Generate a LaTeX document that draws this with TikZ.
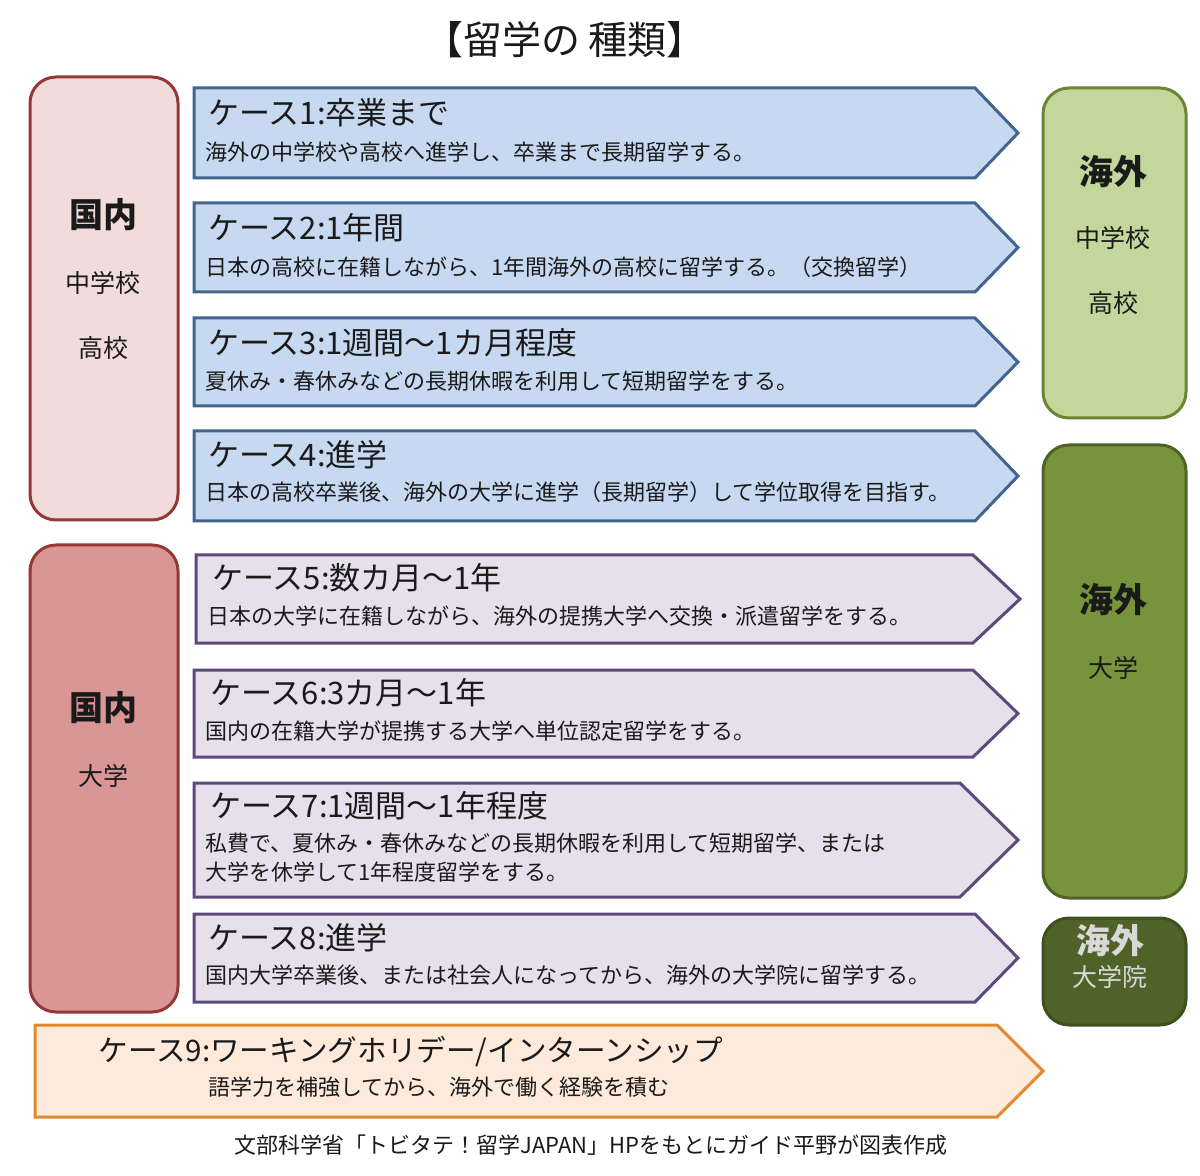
\documentclass[tikz,border=0pt]{standalone}
\usepackage{fontspec}
\setmainfont{Noto Sans CJK JP}
\newfontfamily\jp{Noto Sans CJK JP}
\definecolor{pinkL}{HTML}{F2DCDB}
\definecolor{pinkD}{HTML}{D99694}
\definecolor{redB}{HTML}{953735}
\definecolor{greenL}{HTML}{C3D69B}
\definecolor{greenLB}{HTML}{6B8533}
\definecolor{greenM}{HTML}{77933C}
\definecolor{greenMB}{HTML}{4F6228}
\definecolor{greenD}{HTML}{4F6228}
\definecolor{greenDB}{HTML}{3F4F20}
\definecolor{blueF}{HTML}{C6D9F1}
\definecolor{blueB}{HTML}{41658F}
\definecolor{purpF}{HTML}{E5E0EC}
\definecolor{purpB}{HTML}{5F497A}
\definecolor{orgF}{HTML}{FDEADA}
\definecolor{orgB}{HTML}{E0892E}
\definecolor{txt}{HTML}{1A1A1A}
\definecolor{lighttxt}{HTML}{D9D9D9}
\tikzset{
  sidebox/.style={rounded corners=13pt, line width=1.5pt},
  blueArrow/.style={draw=blueB, fill=blueF, line width=1.5pt, line join=miter},
  purpArrow/.style={draw=purpB, fill=purpF, line width=1.5pt, line join=miter},
  orgArrow/.style={draw=orgB, fill=orgF, line width=1.5pt, line join=miter},
  head/.style={anchor=west, inner sep=0pt, text=txt, font=\jp\fontsize{15.5}{18}\selectfont},
  sub/.style={anchor=west, inner sep=0pt, text=txt, font=\jp\fontsize{11}{13}\selectfont},
  big/.style={inner sep=0pt, text=txt, font=\jp\bfseries\fontsize{17}{20}\selectfont},
  small/.style={inner sep=0pt, text=txt, font=\jp\fontsize{12.5}{15}\selectfont},
}
% #1 left, #2 top, #3 bottom, #4 shoulder, #5 tip, #6 style
\newcommand\CaseArrow[6]{%
  \draw[#6] (#1,#2) -- (#4,#2) -- (#5,{(#2+#3)/2}) -- (#4,#3) -- (#1,#3) -- cycle;}
\begin{document}
\begin{tikzpicture}[x=0.5pt,y=-0.5pt]
\useasboundingbox (0,0) rectangle (1200,1176);
\fill[white] (0,0) rectangle (1200,1176);

% title
\node[inner sep=0pt, text=txt, font=\jp\fontsize{19.5}{22}\selectfont] (title) at (565,40) {【留学の 種類】};

% left boxes
\draw[sidebox, draw=redB, fill=pinkL] (30,77) rectangle (178,520);
\node[big] (l1a) at (103,215) {国内};
\node[small] (l1b) at (103,283) {中学校};
\node[small] (l1c) at (103,348) {高校};

\draw[sidebox, draw=redB, fill=pinkD] (30,545) rectangle (178,1012);
\node[big] (l2a) at (103,708) {国内};
\node[small] (l2b) at (103,776) {大学};

% right boxes
\draw[sidebox, draw=greenLB, fill=greenL] (1043,88) rectangle (1186,418);
\node[big] (r1a) at (1113,172) {海外};
\node[small] (r1b) at (1113,238) {中学校};
\node[small] (r1c) at (1113,303) {高校};

\draw[sidebox, draw=greenMB, fill=greenM] (1043,445) rectangle (1186,898);
\node[big] (r2a) at (1113,600) {海外};
\node[small] (r2b) at (1113,668) {大学};

\draw[sidebox, draw=greenDB, fill=greenD] (1043,918) rectangle (1186,1025);
\node[big, text=lighttxt] (r3a) at (1110,941) {海外};
\node[small, text=lighttxt] (r3b) at (1110,977) {大学院};

% arrows
\CaseArrow{194}{88}{178}{975}{1018}{blueArrow}
\node[head] (c1h) at (208,113) {ケース1:卒業まで};
\node[sub] (c1s) at (205,152) {海外の中学校や高校へ進学し、卒業まで長期留学する。};

\CaseArrow{194}{203}{292}{975}{1018}{blueArrow}
\node[head] (c2h) at (208,228) {ケース2:1年間};
\node[sub] (c2s) at (205,267) {日本の高校に在籍しながら、1年間海外の高校に留学する。（交換留学）};

\CaseArrow{194}{318}{406}{975}{1018}{blueArrow}
\node[head] (c3h) at (208,343) {ケース3:1週間～1カ月程度};
\node[sub] (c3s) at (205,381) {夏休み・春休みなどの長期休暇を利用して短期留学をする。};

\CaseArrow{194}{431}{521}{975}{1018}{blueArrow}
\node[head] (c4h) at (208,455) {ケース4:進学};
\node[sub] (c4s) at (205,492) {日本の高校卒業後、海外の大学に進学（長期留学）して学位取得を目指す。};

\CaseArrow{196}{555}{643}{973}{1020}{purpArrow}
\node[head] (c5h) at (212,578) {ケース5:数カ月～1年};
\node[sub] (c5s) at (207,616) {日本の大学に在籍しながら、海外の提携大学へ交換・派遣留学をする。};

\CaseArrow{194}{670}{757}{973}{1018}{purpArrow}
\node[head] (c6h) at (210,693) {ケース6:3カ月～1年};
\node[sub] (c6s) at (205,731) {国内の在籍大学が提携する大学へ単位認定留学をする。};

\CaseArrow{194}{783}{897}{960}{1018}{purpArrow}
\node[head] (c7h) at (210,806) {ケース7:1週間～1年程度};
\node[sub] (c7s) at (205,843) {私費で、夏休み・春休みなどの長期休暇を利用して短期留学、または};
\node[sub] (c7t) at (205,872) {大学を休学して1年程度留学をする。};

\CaseArrow{194}{914}{1002}{975}{1018}{purpArrow}
\node[head] (c8h) at (208,938) {ケース8:進学};
\node[sub] (c8s) at (205,975) {国内大学卒業後、または社会人になってから、海外の大学院に留学する。};

\CaseArrow{35}{1025}{1117}{997}{1043}{orgArrow}
\node[head, font=\jp\fontsize{14.8}{17}\selectfont] (c9h) at (98,1052) {ケース9:ワーキングホリデー/インターンシップ};
\node[sub] (c9s) at (208,1087) {語学力を補強してから、海外で働く経験を積む};

% footer
\node[inner sep=0pt, text=txt, font=\jp\fontsize{11}{13}\selectfont] (foot) at (591,1145) {文部科学省「トビタテ！留学JAPAN」HPをもとにガイド平野が図表作成};
\end{tikzpicture}
\end{document}
